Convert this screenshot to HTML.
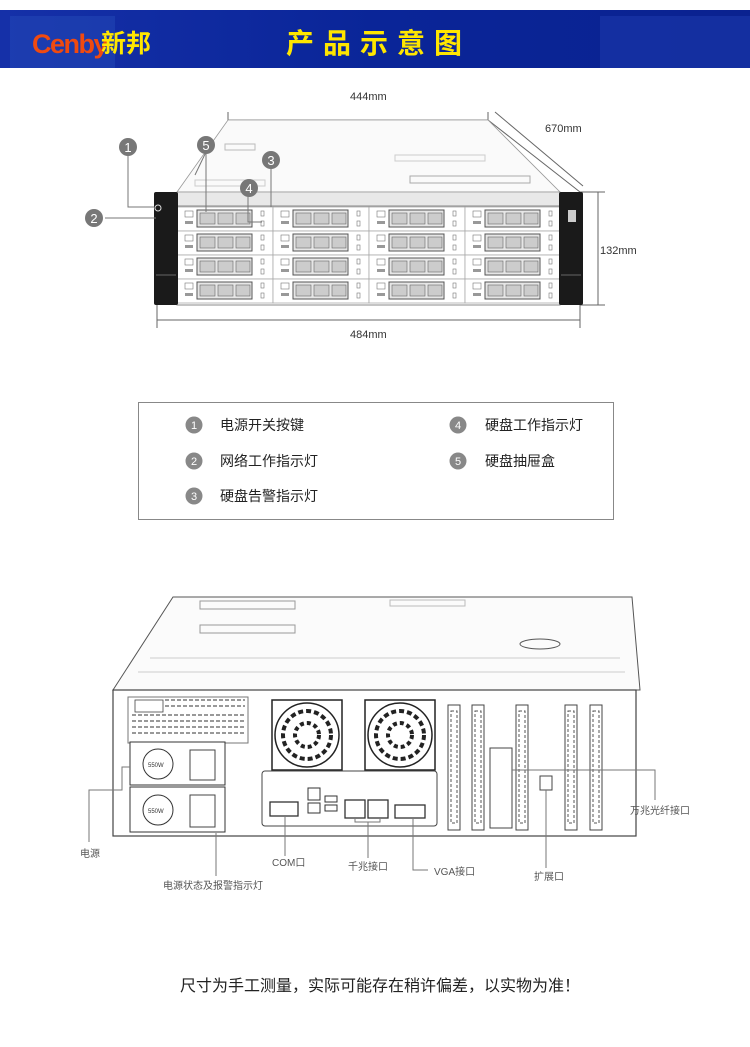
<!DOCTYPE html>
<html><head><meta charset="utf-8"><style>
body{margin:0;background:#fff;}
svg{display:block}
text{font-family:"Liberation Sans","Noto Sans CJK SC",sans-serif;}
</style></head><body>
<svg width="750" height="1047" viewBox="0 0 750 1047" xmlns="http://www.w3.org/2000/svg">
<defs>
<linearGradient id="hb" x1="0" x2="1" y1="0" y2="0">
<stop offset="0" stop-color="#1530a8"/><stop offset="0.5" stop-color="#0a2598"/><stop offset="1" stop-color="#0a2290"/>
</linearGradient>
<g id="bay">
<rect x="0" y="0" width="96" height="24" fill="#fff" stroke="#aaa" stroke-width="0.8"/>
<rect x="8" y="4" width="8" height="6" fill="none" stroke="#777" stroke-width="0.6"/>
<rect x="8" y="14" width="8" height="3" fill="#999"/>
<rect x="20" y="3" width="55" height="17" fill="#e6e6e6" stroke="#555" stroke-width="1"/>
<rect x="23" y="6" width="15" height="11" fill="#ccc" stroke="#666" stroke-width="0.6"/>
<rect x="41" y="6" width="15" height="11" fill="#ccc" stroke="#666" stroke-width="0.6"/>
<rect x="59" y="6" width="14" height="11" fill="#ccc" stroke="#666" stroke-width="0.6"/>
<rect x="84" y="4" width="3" height="5" fill="none" stroke="#777" stroke-width="0.6"/>
<rect x="84" y="14" width="3" height="5" fill="none" stroke="#777" stroke-width="0.6"/>
</g>
<g id="slot">
<rect x="0" y="0" width="12" height="125" fill="#fff" stroke="#444" stroke-width="1"/>
<rect x="3" y="6" width="6" height="112" fill="none" stroke="#555" stroke-width="1" stroke-dasharray="3,2"/>
</g>
</defs>

<rect x="0" y="10" width="750" height="58" fill="url(#hb)"/>
<rect x="10" y="16" width="105" height="52" fill="#2449b8" opacity="0.5"/>
<rect x="600" y="16" width="150" height="52" fill="#1d3cb0" opacity="0.5"/>
<text x="32" y="53" font-size="27" font-weight="bold" fill="#f04a10" letter-spacing="-1.5">Cenby</text>
<text x="101" y="52" font-size="25" font-weight="bold" fill="#ffe600" font-family="Noto Sans CJK SC,sans-serif">新邦</text>
<text x="286" y="53" font-size="28" font-weight="bold" fill="#ffe600" letter-spacing="9" font-family="Noto Sans CJK SC,sans-serif">产品示意图</text>

<g stroke="#666" stroke-width="1" fill="none">
<line x1="228" y1="112" x2="228" y2="128"/><line x1="488" y1="112" x2="488" y2="128"/>
<line x1="228" y1="120" x2="488" y2="120"/>
<line x1="495" y1="112" x2="583" y2="186"/>
<line x1="488" y1="120" x2="580" y2="192"/>
<line x1="580" y1="192" x2="605" y2="192"/><line x1="580" y1="305" x2="605" y2="305"/>
<line x1="598" y1="192" x2="598" y2="305"/>
<line x1="157" y1="305" x2="157" y2="328"/><line x1="580" y1="305" x2="580" y2="328"/>
<line x1="157" y1="320" x2="580" y2="320"/>
</g>
<text x="350" y="100" font-size="11" fill="#333">444mm</text>
<text x="545" y="132" font-size="11" fill="#333">670mm</text>
<text x="600" y="254" font-size="11" fill="#333">132mm</text>
<text x="350" y="338" font-size="11" fill="#333">484mm</text>

<polygon points="228,120 488,120 560,192 177,192" fill="#fafafa" stroke="#999" stroke-width="0.8"/>
<rect x="225" y="144" width="30" height="6" fill="none" stroke="#bbb"/>
<rect x="395" y="155" width="90" height="6" fill="none" stroke="#ccc"/>
<rect x="195" y="180" width="70" height="6" fill="none" stroke="#ccc"/>
<rect x="410" y="176" width="120" height="7" fill="none" stroke="#aaa"/>
<rect x="177" y="192" width="383" height="14" fill="#e8e8e8" stroke="#999" stroke-width="0.8"/>
<rect x="177" y="206" width="383" height="99" fill="#fff" stroke="#888"/>
<g>
<use href="#bay" x="177" y="207"/><use href="#bay" x="273" y="207"/><use href="#bay" x="369" y="207"/><use href="#bay" x="465" y="207"/>
<use href="#bay" x="177" y="231"/><use href="#bay" x="273" y="231"/><use href="#bay" x="369" y="231"/><use href="#bay" x="465" y="231"/>
<use href="#bay" x="177" y="255"/><use href="#bay" x="273" y="255"/><use href="#bay" x="369" y="255"/><use href="#bay" x="465" y="255"/>
<use href="#bay" x="177" y="279"/><use href="#bay" x="273" y="279"/><use href="#bay" x="369" y="279"/><use href="#bay" x="465" y="279"/>
</g>
<rect x="154" y="192" width="24" height="113" rx="2" fill="#1a1a1a"/>
<rect x="559" y="192" width="24" height="113" rx="2" fill="#1a1a1a"/>
<circle cx="158" cy="208" r="3" fill="none" stroke="#ddd"/>
<rect x="568" y="210" width="8" height="12" fill="#ccc"/>
<line x1="156" y1="275" x2="176" y2="275" stroke="#666"/>
<line x1="561" y1="275" x2="581" y2="275" stroke="#666"/>

<g stroke="#777" stroke-width="1" fill="none">
<polyline points="128,156 128,207 154,207"/>
<line x1="105" y1="218" x2="156" y2="218"/>
<line x1="206" y1="152" x2="206" y2="212"/>
<line x1="206" y1="152" x2="195" y2="175"/>
<line x1="271" y1="168" x2="271" y2="207"/>
<polyline points="248,197 248,222 262,222"/>
</g>
<g font-size="13" fill="#fff" text-anchor="middle">
<circle cx="128" cy="147" r="9" fill="#777"/><text x="128" y="152">1</text>
<circle cx="94" cy="218" r="9" fill="#777"/><text x="94" y="223">2</text>
<circle cx="271" cy="160" r="9" fill="#777"/><text x="271" y="165">3</text>
<circle cx="249" cy="188" r="9" fill="#777"/><text x="249" y="193">4</text>
<circle cx="206" cy="145" r="9" fill="#777"/><text x="206" y="150">5</text>
</g>

<rect x="138.5" y="402.5" width="475" height="117" fill="#fff" stroke="#888"/>
<g font-size="11" fill="#fff" text-anchor="middle">
<circle cx="194" cy="425" r="8.5" fill="#888"/><text x="194" y="429">1</text>
<circle cx="194" cy="461" r="8.5" fill="#888"/><text x="194" y="465">2</text>
<circle cx="194" cy="496" r="8.5" fill="#888"/><text x="194" y="500">3</text>
<circle cx="458" cy="425" r="8.5" fill="#888"/><text x="458" y="429">4</text>
<circle cx="458" cy="461" r="8.5" fill="#888"/><text x="458" y="465">5</text>
</g>
<g font-size="14" fill="#222">
<text x="220" y="430">电源开关按键</text>
<text x="220" y="466">网络工作指示灯</text>
<text x="220" y="501">硬盘告警指示灯</text>
<text x="485" y="430">硬盘工作指示灯</text>
<text x="485" y="466">硬盘抽屉盒</text>
</g>

<polygon points="173,597 632,597 640,690 113,690" fill="#fbfbfb" stroke="#555" stroke-width="1"/>
<rect x="200" y="601" width="95" height="8" fill="none" stroke="#999"/>
<rect x="390" y="600" width="75" height="6" fill="none" stroke="#bbb"/>
<rect x="200" y="625" width="95" height="8" fill="none" stroke="#999"/>
<ellipse cx="540" cy="644" rx="20" ry="5" fill="none" stroke="#555"/>
<line x1="150" y1="658" x2="620" y2="658" stroke="#ccc"/>
<line x1="138" y1="672" x2="625" y2="672" stroke="#ccc"/>
<rect x="113" y="690" width="523" height="146" fill="#fff" stroke="#444" stroke-width="1.2"/>
<rect x="128" y="697" width="120" height="46" fill="#fff" stroke="#777"/>
<rect x="135" y="700" width="28" height="12" fill="none" stroke="#444" stroke-width="0.8"/>
<g fill="#fff" stroke="#333" stroke-width="0.9">
<path d="M165 700h80M165 706h80M132 715h113M132 721h113M132 727h113M132 733h113" stroke-dasharray="4,2"/>
</g>
<rect x="130" y="742" width="95" height="43" fill="#fff" stroke="#333"/>
<rect x="130" y="787" width="95" height="45" fill="#fff" stroke="#333"/>
<circle cx="158" cy="764" r="15" fill="none" stroke="#333"/><text x="148" y="767" font-size="6" fill="#333">550W</text>
<circle cx="158" cy="810" r="15" fill="none" stroke="#333"/><text x="148" y="813" font-size="6" fill="#333">550W</text>
<rect x="190" y="750" width="25" height="30" fill="none" stroke="#444"/>
<rect x="190" y="795" width="25" height="32" fill="none" stroke="#444"/>
<g fill="none" stroke="#222" stroke-width="1.5">
<rect x="272" y="700" width="70" height="70"/>
<circle cx="307" cy="735" r="32"/><circle cx="307" cy="735" r="24" stroke-dasharray="5,3" stroke-width="4"/><circle cx="307" cy="735" r="12" stroke-width="4" stroke-dasharray="4,3"/>
<rect x="365" y="700" width="70" height="70"/>
<circle cx="400" cy="735" r="32"/><circle cx="400" cy="735" r="24" stroke-dasharray="5,3" stroke-width="4"/><circle cx="400" cy="735" r="12" stroke-width="4" stroke-dasharray="4,3"/>
</g>
<rect x="262" y="771" width="175" height="55" rx="3" fill="#fff" stroke="#444"/>
<rect x="270" y="802" width="28" height="14" fill="none" stroke="#333" stroke-width="1.3"/>
<rect x="308" y="788" width="12" height="12" fill="none" stroke="#333"/>
<rect x="308" y="803" width="12" height="10" fill="none" stroke="#333"/>
<rect x="325" y="796" width="12" height="6" fill="none" stroke="#333"/>
<rect x="325" y="805" width="12" height="6" fill="none" stroke="#333"/>
<rect x="345" y="800" width="20" height="18" fill="none" stroke="#333" stroke-width="1.3"/>
<rect x="368" y="800" width="20" height="18" fill="none" stroke="#333" stroke-width="1.3"/>
<rect x="395" y="805" width="30" height="13" fill="none" stroke="#333" stroke-width="1.3"/>
<use href="#slot" x="448" y="705"/><use href="#slot" x="472" y="705"/>
<rect x="490" y="748" width="22" height="80" fill="#fff" stroke="#444"/>
<use href="#slot" x="516" y="705"/><use href="#slot" x="565" y="705"/><use href="#slot" x="590" y="705"/>
<rect x="540" y="776" width="12" height="14" fill="none" stroke="#444"/>

<g stroke="#777" stroke-width="1" fill="none">
<polyline points="130,767 122,767 122,790 89,790 89,842"/>
<line x1="216" y1="833" x2="216" y2="876"/>
<line x1="285" y1="815" x2="285" y2="856"/>
<polyline points="355,818 355,822 380,822 380,818"/><line x1="368" y1="822" x2="368" y2="858"/>
<polyline points="413,818 413,870 428,870"/>
<line x1="546" y1="790" x2="546" y2="868"/>
<polyline points="512,770 655,770 655,800"/>
</g>
<g font-size="10" fill="#555">
<text x="80" y="857">电源</text>
<text x="163" y="889">电源状态及报警指示灯</text>
<text x="272" y="866">COM口</text>
<text x="348" y="870">千兆接口</text>
<text x="434" y="875">VGA接口</text>
<text x="534" y="880">扩展口</text>
<text x="630" y="814">万兆光纤接口</text>
</g>

<text x="380" y="991" font-size="16" fill="#222" text-anchor="middle">尺寸为手工测量，实际可能存在稍许偏差，以实物为准！</text>
</svg>
</body></html>
